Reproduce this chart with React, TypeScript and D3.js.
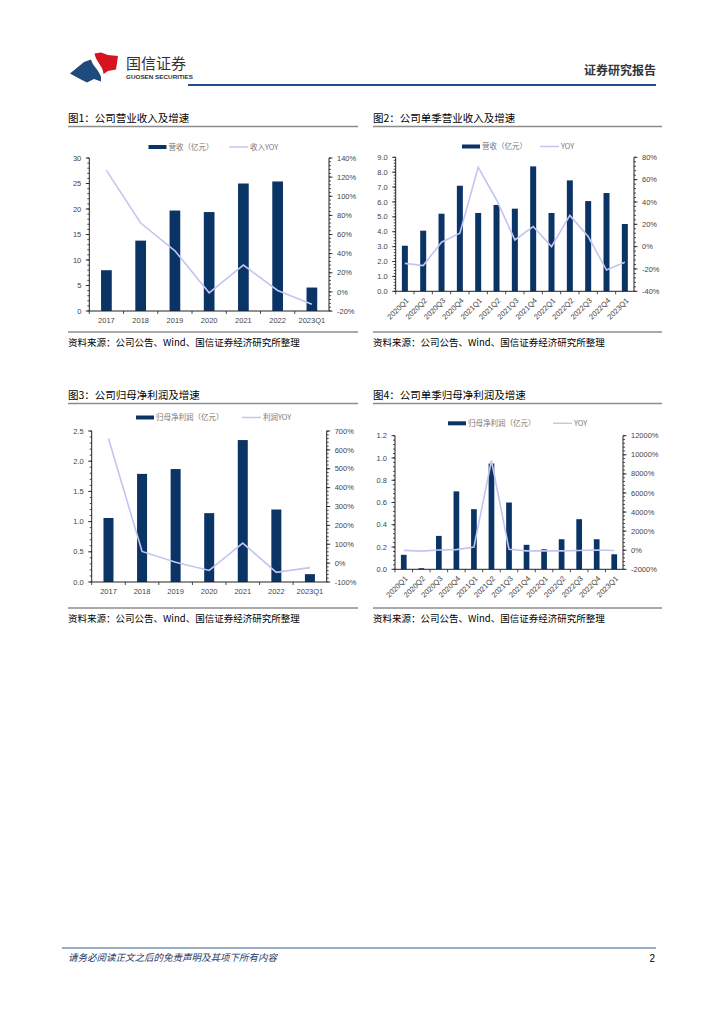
import React from 'react';
import * as d3 from 'd3';

const annualCats = ['2017', '2018', '2019', '2020', '2021', '2022', '2023Q1'];
const quarterCats = ['2020Q1', '2020Q2', '2020Q3', '2020Q4', '2021Q1', '2021Q2', '2021Q3', '2021Q4', '2022Q1', '2022Q2', '2022Q3', '2022Q4', '2023Q1'];

const revAnnual = [8.0, 13.8, 19.7, 19.4, 25.0, 25.4, 4.6];
const revAnnualYoy = [127, 72, 43, -1, 28, 1.5, -13];

const revQuarter = [3.06, 4.07, 5.21, 7.09, 5.26, 5.8, 5.55, 8.39, 5.26, 7.45, 6.06, 6.6, 4.52];
const revQuarterYoy = [-15, -17, 4, 12, 71, 42, 6, 18, 0, 28, 9, -21, -14];

const profitAnnual = [1.06, 1.79, 1.87, 1.14, 2.35, 1.2, 0.13];
const profitAnnualYoy = [660, 62, 5, -39, 106, -49, -24];

const profitQuarter = [0.13, 0.01, 0.3, 0.7, 0.54, 0.95, 0.6, 0.22, 0.18, 0.27, 0.45, 0.27, 0.135];
const profitQuarterYoy = [-20, -95, 20, 60, 320, 9400, 100, -69, -67, -72, -25, 23, -25];

const BAR = '#0b3466';
const LINE = '#c4c5ef';
const LATIN = '"Liberation Sans", Arial, sans-serif';
const CJK = '"Noto Sans CJK SC", "Liberation Sans", sans-serif';
const SOURCE = '资料来源：公司公告、Wind、国信证券经济研究所整理';

type ChartProps = {
  title: string;
  left: number; right: number;
  titleY: number; legendY: number;
  x0: number; x1: number; yTop: number; yBottom: number;
  cats: string[]; bars: number[]; line: number[];
  lDom: [number, number]; lStep: number; lFmt: (v: number) => string;
  rDom: [number, number]; rStep: number;
  barW: number; rotate: boolean;
  legendBar: string; legendLine: string;
  legRectX: number; legLineX: number;
  bottomY: number;
};

function range(a: number, b: number, s: number) {
  const out: number[] = [];
  const n = Math.round((b - a) / s);
  for (let i = 0; i <= n; i++) out.push(a + i * s);
  return out;
}

function Chart(p: ChartProps) {
  const x = d3.scaleBand<string>().domain(p.cats).range([p.x0, p.x1]);
  const yl = d3.scaleLinear().domain(p.lDom).range([p.yBottom, p.yTop]);
  const yr = d3.scaleLinear().domain(p.rDom).range([p.yBottom, p.yTop]);
  const lMaj = range(p.lDom[0], p.lDom[1], p.lStep);
  const lMin = range(p.lDom[0], p.lDom[1], p.lStep / 5);
  const rMaj = range(p.rDom[0], p.rDom[1], p.rStep);
  const rMin = range(p.rDom[0], p.rDom[1], p.rStep / 5);
  const cx = (c: string) => (x(c) as number) + x.bandwidth() / 2;
  const lineGen = d3.line<number>().x((_, i) => cx(p.cats[i])).y((d) => yr(d));
  const axisC = '#222';
  return (
    <g>
      <text x={p.left} y={p.titleY} fontFamily={CJK} fontSize={10.5} fill="#000">{p.title}</text>
      <line x1={p.left} x2={p.right} y1={p.titleY + 4.5} y2={p.titleY + 4.5} stroke="#8c8c8c" strokeWidth={1.6} />
      <rect x={p.legRectX} y={p.legendY - 2} width={18} height={4} fill={BAR} />
      <text x={p.legRectX + 20} y={p.legendY} dy="0.35em" fontFamily={CJK} fontSize={7.5} fill="#777">{p.legendBar}</text>
      <line x1={p.legLineX} x2={p.legLineX + 19} y1={p.legendY} y2={p.legendY} stroke={LINE} strokeWidth={1.5} />
      <text x={p.legLineX + 21} y={p.legendY} dy="0.35em" fontFamily={CJK} fontSize={7.5} fill="#777">{p.legendLine}</text>
      {p.bars.map((v, i) => (
        <rect key={i} x={cx(p.cats[i]) - p.barW / 2} y={yl(v)} width={p.barW} height={p.yBottom - yl(v)} fill={BAR} />
      ))}
      <path d={lineGen(p.line) || ''} fill="none" stroke={LINE} strokeWidth={1.6} />
      <line x1={p.x0} x2={p.x0} y1={p.yTop} y2={p.yBottom} stroke={axisC} strokeWidth={1} />
      {lMin.map((v, i) => (
        <line key={'lm' + i} x1={p.x0 - 2} x2={p.x0} y1={yl(v)} y2={yl(v)} stroke={axisC} strokeWidth={0.8} />
      ))}
      {lMaj.map((v, i) => (
        <g key={'l' + i}>
          <line x1={p.x0 - 3.5} x2={p.x0} y1={yl(v)} y2={yl(v)} stroke={axisC} strokeWidth={0.9} />
          <text x={p.x0 - 8} y={yl(v)} dy="0.35em" textAnchor="end" fontFamily={LATIN} fontSize={7.5} fill="#444">{p.lFmt(v)}</text>
        </g>
      ))}
      <line x1={p.x1} x2={p.x1} y1={p.yTop} y2={p.yBottom} stroke={axisC} strokeWidth={1} />
      {rMin.map((v, i) => (
        <line key={'rm' + i} x1={p.x1} x2={p.x1 + 2} y1={yr(v)} y2={yr(v)} stroke={axisC} strokeWidth={0.8} />
      ))}
      {rMaj.map((v, i) => (
        <g key={'r' + i}>
          <line x1={p.x1} x2={p.x1 + 3.5} y1={yr(v)} y2={yr(v)} stroke={axisC} strokeWidth={0.9} />
          <text x={p.x1 + 8} y={yr(v)} dy="0.35em" textAnchor="start" fontFamily={LATIN} fontSize={7.5} fill="#444">{v + '%'}</text>
        </g>
      ))}
      <line x1={p.x0} x2={p.x1} y1={p.yBottom} y2={p.yBottom} stroke={axisC} strokeWidth={1} />
      {p.cats.map((c, i) => (
        <line key={'bt' + i} x1={x(c) as number} x2={x(c) as number} y1={p.yBottom} y2={p.yBottom + 3} stroke={axisC} strokeWidth={0.8} />
      ))}
      {p.cats.map((c, i) =>
        p.rotate ? (
          <text key={'xl' + i} transform={`translate(${cx(c) + 2.5},${p.yBottom + 8}) rotate(-45)`} textAnchor="end" dy="0.35em" fontFamily={LATIN} fontSize={7.5} fill="#444">{c}</text>
        ) : (
          <text key={'xl' + i} x={cx(c)} y={p.yBottom + 12} textAnchor="middle" fontFamily={LATIN} fontSize={7.5} fill="#444">{c}</text>
        )
      )}
      <line x1={p.left} x2={p.right} y1={p.bottomY} y2={p.bottomY} stroke="#555" strokeWidth={1} />
      <text x={p.left} y={p.bottomY + 14} fontFamily={CJK} fontSize={9.5} fill="#000">{SOURCE}</text>
    </g>
  );
}

export default function App() {
  return (
    <svg width={724} height={1024} viewBox="0 0 724 1024" style={{ position: 'absolute', left: 0, top: 0, background: '#fff' }}>
      <rect width={724} height={1024} fill="#fff" />
      <path d="M70,73.5 L84,62 L91,59.5 C92.5,66 99,70 101,77 L101,81.5 L94,79 L87,82.5 L80,79 Z" fill="#1f4a7d" />
      <path d="M94.5,53.5 L101,52.5 L108,55 L118,56 L116,69.5 L108,71 L103.5,74 C103,66 96,62 94.5,53.5 Z" fill="#d7141e" />
      <text x={126} y={69} fontFamily={CJK} fontSize={15} fill="#333">国信证券</text>
      <text x={126} y={78.5} fontFamily={LATIN} fontSize={6.2} fontWeight="bold" fill="#333" textLength={67} lengthAdjust="spacingAndGlyphs">GUOSEN SECURITIES</text>
      <text x={656} y={75} textAnchor="end" fontFamily={CJK} fontSize={12} fontWeight="bold" fill="#333">证券研究报告</text>
      <line x1={188} x2={656} y1={85} y2={85} stroke="#1f4e8c" strokeWidth={2} />

      <Chart title="图1：公司营业收入及增速" left={68} right={358} titleY={122} legendY={147}
        x0={89.3} x1={329} yTop={158} yBottom={311} cats={annualCats} bars={revAnnual} line={revAnnualYoy}
        lDom={[0, 30]} lStep={5} lFmt={(v) => String(v)} rDom={[-20, 140]} rStep={20}
        barW={10.7} rotate={false} legendBar="营收（亿元）" legendLine="收入YOY" legRectX={148.5} legLineX={229} bottomY={332} />

      <Chart title="图2：公司单季营业收入及增速" left={373} right={662} titleY={122} legendY={146.5}
        x0={395.7} x1={634} yTop={157.3} yBottom={291.3} cats={quarterCats} bars={revQuarter} line={revQuarterYoy}
        lDom={[0, 9]} lStep={1} lFmt={(v) => v.toFixed(1)} rDom={[-40, 80]} rStep={20}
        barW={6} rotate={true} legendBar="营收（亿元）" legendLine="YOY" legRectX={462} legLineX={540} bottomY={332} />

      <Chart title="图3：公司归母净利润及增速" left={68} right={358} titleY={399} legendY={417.5}
        x0={91.7} x1={326.7} yTop={431} yBottom={582} cats={annualCats} bars={profitAnnual} line={profitAnnualYoy}
        lDom={[0, 2.5]} lStep={0.5} lFmt={(v) => v.toFixed(1)} rDom={[-100, 700]} rStep={100}
        barW={10} rotate={false} legendBar="归母净利润（亿元）" legendLine="利润YOY" legRectX={136} legLineX={242} bottomY={608} />

      <Chart title="图4：公司单季归母净利润及增速" left={373} right={662} titleY={399} legendY={423.3}
        x0={395} x1={623} yTop={435.7} yBottom={569.3} cats={quarterCats} bars={profitQuarter} line={profitQuarterYoy}
        lDom={[0, 1.2]} lStep={0.2} lFmt={(v) => v.toFixed(1)} rDom={[-2000, 12000]} rStep={2000}
        barW={5.7} rotate={true} legendBar="归母净利润（亿元）" legendLine="YOY" legRectX={448} legLineX={553} bottomY={608} />

      <line x1={62} x2={656} y1={948} y2={948} stroke="#2e5c8a" strokeWidth={1} />
      <text x={68} y={961} fontFamily={CJK} fontSize={9.5} fontStyle="italic" fill="#1f3864">请务必阅读正文之后的免责声明及其项下所有内容</text>
      <text x={655} y={962} textAnchor="end" fontFamily={LATIN} fontSize={10} fill="#000">2</text>
    </svg>
  );
}
